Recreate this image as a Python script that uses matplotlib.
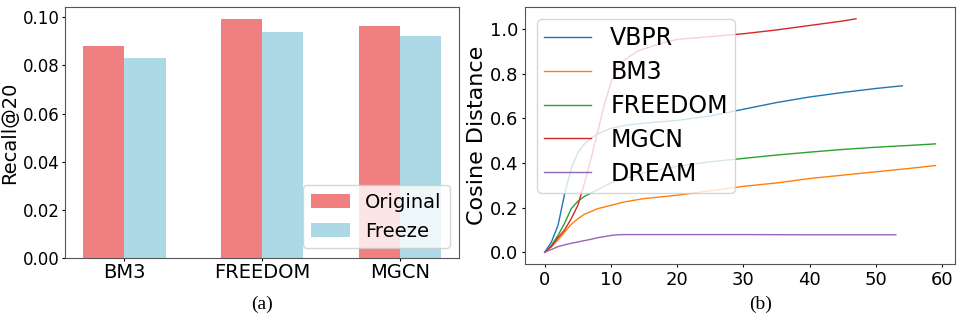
import numpy as np
from matplotlib import pyplot as plt

# bar data (a)
models = ['BM3', 'FREEDOM', 'MGCN']
recall_original = [0.0881, 0.0992, 0.0964]
recall_freeze = [0.0831, 0.0939, 0.0922]

# curve data (b)
vbpr_x = [0, 1, 2, 3, 4, 5, 6, 7, 8, 10, 12, 15, 20, 25, 30, 35, 40, 45, 50, 54]
vbpr_y = [0, 0.045, 0.12, 0.26, 0.375, 0.445, 0.485, 0.51, 0.53, 0.555, 0.567,
          0.578, 0.59, 0.61, 0.64, 0.67, 0.695, 0.715, 0.733, 0.745]
bm3_x = [0, 1, 2, 3, 4, 5, 6, 8, 10, 12, 15, 20, 25, 30, 35, 40, 45, 50, 55, 59]
bm3_y = [0, 0.025, 0.055, 0.09, 0.125, 0.15, 0.17, 0.195, 0.21, 0.225, 0.24,
         0.255, 0.275, 0.295, 0.31, 0.33, 0.345, 0.36, 0.375, 0.388]
freedom_x = [0, 1, 2, 3, 4, 5, 6, 8, 10, 12, 15, 20, 25, 30, 35, 40, 45, 50, 55, 59]
freedom_y = [0, 0.03, 0.075, 0.13, 0.195, 0.228, 0.25, 0.28, 0.31, 0.33, 0.355,
             0.385, 0.405, 0.42, 0.435, 0.448, 0.46, 0.47, 0.478, 0.485]
mgcn_x = [0, 1, 2, 3, 4, 5, 6, 7, 8, 9, 10, 11, 12, 14, 17, 20, 25, 30, 35, 40, 45, 47]
mgcn_y = [0, 0.025, 0.065, 0.1, 0.15, 0.21, 0.31, 0.42, 0.54, 0.66, 0.76, 0.825,
          0.86, 0.9, 0.93, 0.953, 0.965, 0.978, 0.995, 1.015, 1.035, 1.045]
dream_x = [0, 1, 2, 3, 4, 5, 6, 7, 8, 9, 10, 11, 12, 15, 20, 30, 40, 53]
dream_y = [0, 0.012, 0.025, 0.033, 0.04, 0.046, 0.052, 0.058, 0.065, 0.07,
           0.075, 0.078, 0.079, 0.079, 0.079, 0.079, 0.078, 0.078]

fig = plt.figure(figsize=(9.69, 3.23), dpi=100)

# (a) recall bars
ax1 = fig.add_axes([0.067, 0.201, 0.407, 0.777])
pos = np.arange(len(models))
w = 0.3
ax1.bar(pos - w / 2, recall_original, w, color='lightcoral', label='Original')
ax1.bar(pos + w / 2, recall_freeze, w, color='lightblue', label='Freeze')
ax1.set_xticks(pos)
ax1.set_xticklabels(models, fontsize=14)
ax1.tick_params(axis='y', labelsize=12)
ax1.tick_params(length=2.5, pad=1.2)
ax1.set_ylabel('Recall@20', fontsize=14, labelpad=3)
ax1.legend(loc='lower right', fontsize=14)

# (b) cosine distance curves
ax2 = fig.add_axes([0.542, 0.183, 0.4436, 0.795])
ax2.plot(vbpr_x, vbpr_y, linewidth=1, label='VBPR')
ax2.plot(bm3_x, bm3_y, linewidth=1, label='BM3')
ax2.plot(freedom_x, freedom_y, linewidth=1, label='FREEDOM')
ax2.plot(mgcn_x, mgcn_y, linewidth=1, label='MGCN')
ax2.plot(dream_x, dream_y, linewidth=1, label='DREAM')
ax2.tick_params(labelsize=13, length=2.5, pad=2.5)
ax2.set_ylabel('Cosine Distance', fontsize=16, labelpad=2)
ax2.legend(loc='upper left', fontsize=17, labelspacing=0.42, borderpad=0.3)

for ax in (ax1, ax2):
    for s in ax.spines.values():
        s.set_edgecolor('#555555')

fig.text(0.27, 0.045, '(a)', fontsize=14, family='Liberation Serif', ha='center')
fig.text(0.785, 0.045, '(b)', fontsize=14, family='Liberation Serif', ha='center')

fig.savefig('out.png', dpi=100)
